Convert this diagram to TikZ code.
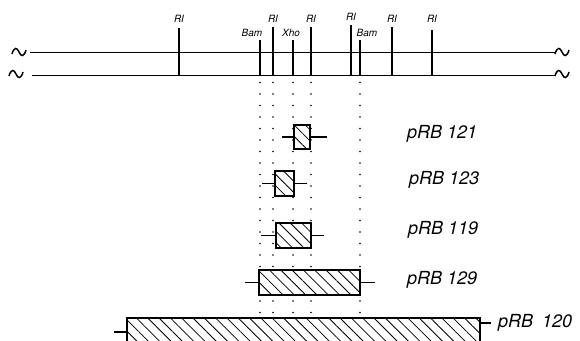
\documentclass[tikz,border=0pt]{standalone}
\usepackage{fontspec}
\setmainfont{TeX Gyre Heros}
\usetikzlibrary{patterns.meta}

\begin{document}
\begin{tikzpicture}[x=1pt,y=-1pt,
  clone/.style={draw, line width=1.4pt, inner sep=0pt, preaction={fill=white},
    pattern={Lines[angle=-45,distance=8pt,line width=0.8pt]}},
  stub/.style={line width=1.3pt},
  dotline/.style={line width=1.8pt, line cap=round, dash pattern=on 0pt off 11.5pt},
  site/.style={line width=1.1pt},
  enz/.style={font=\fontsize{10}{10}\selectfont\itshape, inner sep=0pt, anchor=base},
  lab/.style={font=\fontsize{18}{18}\selectfont\itshape, inner sep=0pt, anchor=base west}]

\clip (0,0) rectangle (580,340);

% the two strands of the map
\coordinate (topL) at (30,52.5);
\coordinate (topR) at (555,52.5);
\coordinate (botL) at (32,75.5);
\coordinate (botR) at (555,75.5);
\draw[line width=1.6pt] (topL) -- (topR);
\draw[line width=1.6pt] (botL) -- (botR);

% tildes at both ends
\foreach \cx/\cy in {19/52,16/74,562/52,562/74}
  \draw[line width=1.5pt] (\cx-7,\cy+2) .. controls (\cx-5,\cy-5) and (\cx-2,\cy-5) .. (\cx,\cy)
    .. controls (\cx+2,\cy+5) and (\cx+5,\cy+5) .. (\cx+7,\cy-2);

% restriction sites
\foreach \x/\t/\n in {179/28/a,260/40/b,273/27/c,293/40/d,311/27/e,351/25/f,360/40/g,392/27/h,432/30/i}{
  \coordinate (s\n) at (\x,\t);
  \coordinate (b\n) at (\x,75.5);
  \draw[site] (s\n) -- (b\n);
}
\foreach \x/\y/\n in {179/22/a,273/22/c,311/22/e,351/20/f,392/22/h,432/22/i}
  \node[enz] (r\n) at (\x,\y) {RI};
\node[enz] (bam1) at (252,36) {Bam};
\node[enz] (xho) at (291,36) {Xho};
\node[enz] (bam2) at (367,36) {Bam};

% dotted lines down to the clones
\foreach \x/\n in {260/b,273/c,293/d,311/e,360/g}{
  \coordinate (d\n) at (\x,314);
  \draw[dotline] ([yshift=-7pt]b\n) -- (d\n);
}

% the clones
\node[clone, minimum width=16pt, minimum height=24pt] (p121) at (302,137) {};
\draw[stub] (p121.west) -- ++(-12,0);
\draw[stub] (p121.east) -- ++(17,0);
\node[lab] (l121) at (407,138) {pRB 121};

\node[clone, minimum width=19pt, minimum height=25pt] (p123) at (284.5,183.5) {};
\draw[stub] (p123.west) -- ++(-12,0);
\draw[stub] (p123.east) -- ++(12,0);
\node[lab] (l123) at (409,184) {pRB 123};

\node[clone, minimum width=35pt, minimum height=25pt] (p119) at (293.5,235.5) {};
\draw[stub] (p119.west) -- ++(-14,0);
\draw[stub] (p119.east) -- ++(12,0);
\node[lab] (l119) at (408,234) {pRB 119};

\node[clone, minimum width=101pt, minimum height=25pt] (p129) at (309.5,282.5) {};
\draw[stub] (p129.west) -- ++(-13,0);
\draw[stub] (p129.east) -- ++(14,0);
\node[lab] (l129) at (407,284) {pRB 129};

\node[clone, minimum width=353pt, minimum height=28pt] (p120) at (303.5,332) {};
\draw[stub] (p120.west) -- ++(-12,0);
\draw[stub] ([yshift=9pt]p120.east) -- ++(10,0);
\node[lab] (l120) at (498,327) {pRB\hspace{0.5em}120};

\end{tikzpicture}
\end{document}
